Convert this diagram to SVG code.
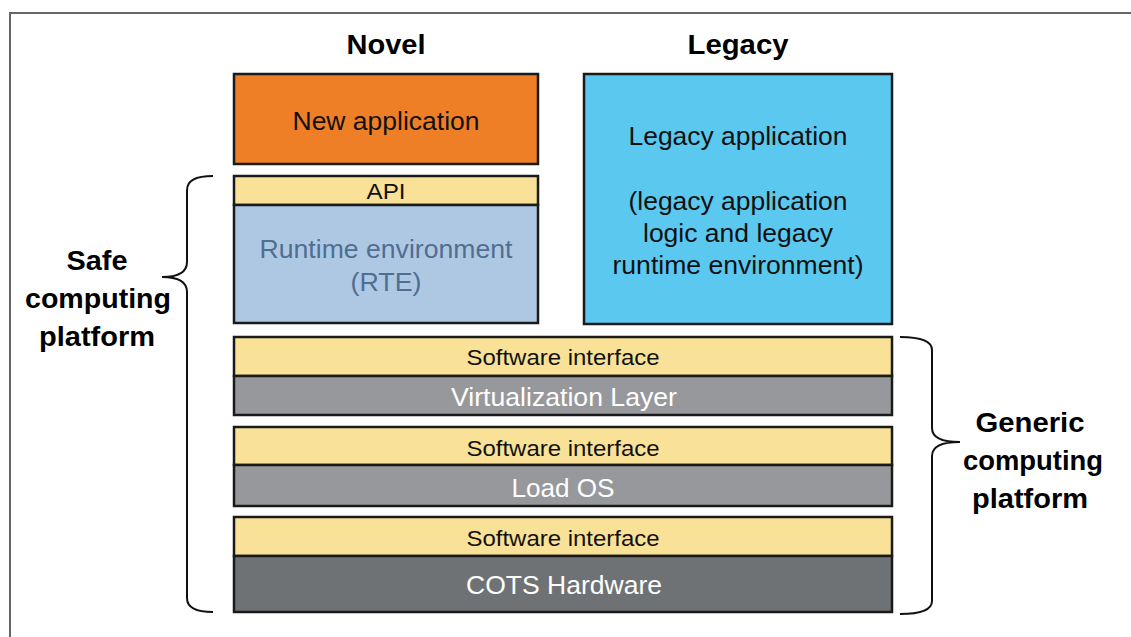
<svg xmlns="http://www.w3.org/2000/svg" width="1131" height="637" viewBox="0 0 1131 637">
<style>
text{font-family:"Liberation Sans",Arial,sans-serif;text-anchor:middle}
.box{stroke:#1a1a1a;stroke-width:2.5}
.hd{font-weight:bold;font-size:27px;fill:#000}
.t24{font-size:25px;fill:#111}
.t20{font-size:22px;fill:#111}
.w{font-size:25px;fill:#fff}
.br{fill:none;stroke:#111;stroke-width:2}
</style>
<rect x="0" y="0" width="1131" height="637" fill="#fff"/>
<path d="M10 637 V13 H1131" fill="none" stroke="#666" stroke-width="2"/>
<g id="hdr-novel"><text class="hd" x="386" y="54" textLength="79" lengthAdjust="spacingAndGlyphs">Novel</text></g>
<g id="hdr-legacy"><text class="hd" x="738" y="54" textLength="101" lengthAdjust="spacingAndGlyphs">Legacy</text></g>
<g id="new-app"><rect class="box" x="234" y="74" width="304" height="90" fill="#EE7F26"/><text class="t24" x="386" y="130" textLength="187" lengthAdjust="spacingAndGlyphs">New application</text></g>
<g id="legacy-app"><rect class="box" x="584" y="74" width="308" height="250" fill="#5BC8F0"/>
<text class="t24" x="738" y="145" textLength="219" lengthAdjust="spacingAndGlyphs">Legacy application</text>
<text class="t24" x="738" y="210" textLength="219" lengthAdjust="spacingAndGlyphs">(legacy application</text>
<text class="t24" x="738" y="242" textLength="190" lengthAdjust="spacingAndGlyphs">logic and legacy</text>
<text class="t24" x="738" y="274" textLength="251" lengthAdjust="spacingAndGlyphs">runtime environment)</text></g>
<g id="api"><rect class="box" x="234" y="176" width="304" height="29" fill="#F9E297"/><text class="t20" x="386" y="199" textLength="39" lengthAdjust="spacingAndGlyphs">API</text></g>
<g id="rte"><rect class="box" x="234" y="205" width="304" height="118" fill="#AEC8E4"/><text x="386" y="258" style="font-size:25px;fill:#4F6E92" textLength="253" lengthAdjust="spacingAndGlyphs">Runtime environment</text><text x="386" y="291" style="font-size:25px;fill:#4F6E92" textLength="71" lengthAdjust="spacingAndGlyphs">(RTE)</text></g>
<g id="si1"><rect class="box" x="234" y="337" width="658" height="39" fill="#F9E297"/><text class="t20" x="563" y="365" textLength="193" lengthAdjust="spacingAndGlyphs">Software interface</text></g>
<g id="virt"><rect class="box" x="234" y="376" width="658" height="39" fill="#97989B"/><text class="w" x="564" y="406" textLength="226" lengthAdjust="spacingAndGlyphs">Virtualization Layer</text></g>
<g id="si2"><rect class="box" x="234" y="427" width="658" height="38" fill="#F9E297"/><text class="t20" x="563" y="456" textLength="193" lengthAdjust="spacingAndGlyphs">Software interface</text></g>
<g id="loados"><rect class="box" x="234" y="465" width="658" height="41" fill="#97989B"/><text class="w" x="563" y="497" textLength="103" lengthAdjust="spacingAndGlyphs">Load OS</text></g>
<g id="si3"><rect class="box" x="234" y="517" width="658" height="39" fill="#F9E297"/><text class="t20" x="563" y="546" textLength="193" lengthAdjust="spacingAndGlyphs">Software interface</text></g>
<g id="cots"><rect class="box" x="234" y="556" width="658" height="56" fill="#6F7274"/><text class="w" x="564" y="594" textLength="196" lengthAdjust="spacingAndGlyphs">COTS Hardware</text></g>
<g id="connectors">
<path class="br" d="M213 176 Q187 176 187 190 V262 Q187 277 162 277 Q187 277 187 292 V598 Q187 612 213 612"/>
<path class="br" d="M900 337 Q932 337 932 350 V428 Q932 442 960 442 Q932 442 932 456 V601 Q932 614 900 614"/>
</g>
<g id="lbl-safe"><text class="hd" x="97" y="270" textLength="61" lengthAdjust="spacingAndGlyphs">Safe</text><text class="hd" x="98" y="308" textLength="146" lengthAdjust="spacingAndGlyphs">computing</text><text class="hd" x="97" y="346" textLength="116" lengthAdjust="spacingAndGlyphs">platform</text></g>
<g id="lbl-generic"><text class="hd" x="1030" y="432" textLength="109" lengthAdjust="spacingAndGlyphs">Generic</text><text class="hd" x="1033" y="470" textLength="140" lengthAdjust="spacingAndGlyphs">computing</text><text class="hd" x="1030" y="508" textLength="116" lengthAdjust="spacingAndGlyphs">platform</text></g>
</svg>
